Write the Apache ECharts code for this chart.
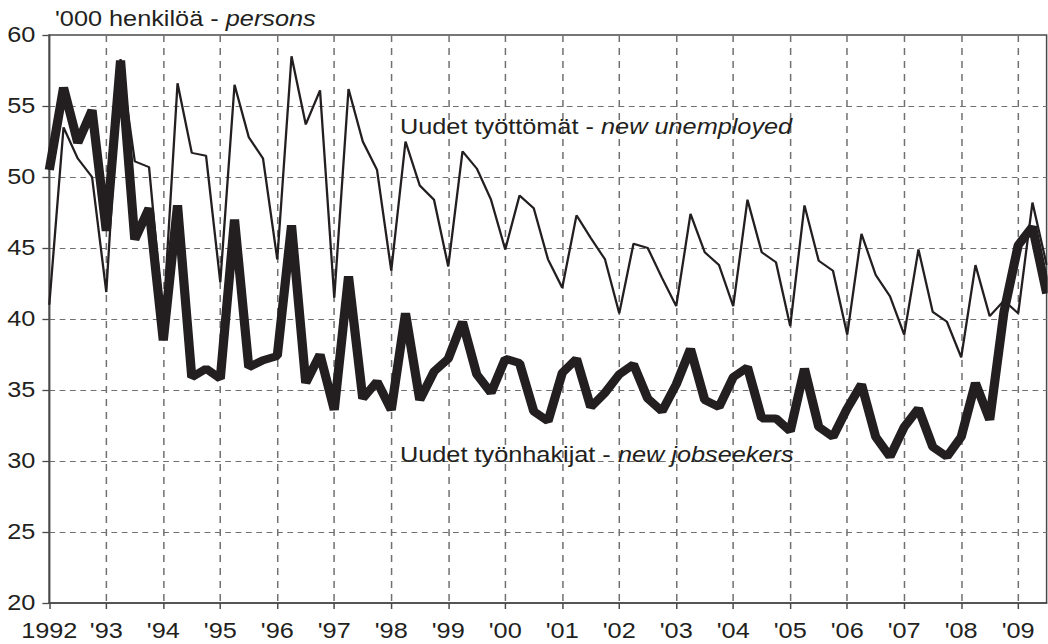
<!DOCTYPE html>
<html>
<head>
<meta charset="utf-8">
<script src="https://cdn.jsdelivr.net/npm/echarts@6/dist/echarts.min.js"></script>
<style>
  html, body { margin: 0; padding: 0; background: #fff; overflow: hidden; }
  #chart { position: absolute; left: 0; top: 0; height: 644px; transform-origin: 0 0; }
</style>
</head>
<body>
<div id="chart"></div>
<script>
// Quarterly figures, thousand persons, 1992 Q1 – 2009 Q3
const years = [1992, 1993, 1994, 1995, 1996, 1997, 1998, 1999, 2000,
               2001, 2002, 2003, 2004, 2005, 2006, 2007, 2008, 2009];
const yearLabels = ['1992', "'93", "'94", "'95", "'96", "'97", "'98", "'99", "'00",
                    "'01", "'02", "'03", "'04", "'05", "'06", "'07", "'08", "'09"];

// Uudet työttömät - new unemployed
const newUnemployed = [
  41.0, 53.5, 51.3, 50.0,
  41.9, 58.3, 51.1, 50.7,
  40.0, 56.6, 51.7, 51.5,
  42.6, 56.5, 52.8, 51.3,
  44.2, 58.5, 53.7, 56.1,
  41.5, 56.2, 52.5, 50.5,
  43.4, 52.5, 49.4, 48.4,
  43.7, 51.8, 50.6, 48.4,
  44.9, 48.7, 47.8, 44.2,
  42.2, 47.3, 45.7, 44.2,
  40.4, 45.3, 45.0, 42.9,
  40.9, 47.4, 44.7, 43.8,
  40.9, 48.4, 44.7, 44.0,
  39.5, 48.0, 44.1, 43.4,
  38.9, 46.0, 43.1, 41.6,
  38.9, 44.9, 40.5, 39.8,
  37.3, 43.8, 40.2, 41.3,
  40.4, 48.2, 43.8
];

// Uudet työnhakijat - new jobseekers
const newJobseekers = [
  50.5, 56.3, 52.4, 54.7,
  46.2, 58.2, 45.6, 47.8,
  38.5, 48.0, 35.9, 36.5,
  35.8, 47.0, 36.6, 37.1,
  37.4, 46.6, 35.5, 37.5,
  33.6, 43.0, 34.4, 35.6,
  33.6, 40.4, 34.3, 36.3,
  37.2, 39.8, 36.1, 34.8,
  37.2, 36.9, 33.5, 32.8,
  36.2, 37.2, 33.8, 34.8,
  36.1, 36.8, 34.4, 33.5,
  35.4, 37.9, 34.3, 33.8,
  35.9, 36.6, 33.0, 33.0,
  32.1, 36.5, 32.4, 31.7,
  33.7, 35.4, 31.7, 30.3,
  32.4, 33.7, 31.0, 30.3,
  31.7, 35.5, 32.9, 40.5,
  45.2, 46.5, 41.8
];

// Quarter categories
const quarters = [];
years.forEach(function (y) {
  ['I', 'II', 'III', 'IV'].forEach(function (q) {
    if (quarters.length < newUnemployed.length) quarters.push(y + ' ' + q);
  });
});

// The artwork is set in a horizontally widened type; the whole drawing is widened by S.
const S = 1.15;
const W = 1048 / S;
const el = document.getElementById('chart');
el.style.width = W + 'px';
el.style.transform = 'scaleX(' + S + ')';

const INK = '#231f20';
const FONT = '"Liberation Sans", Arial, Helvetica, sans-serif';
const FS = 22;
const AXIS = '#4a4a4a';
const GRID = '#707070';

const chart = echarts.init(el, null, { renderer: 'svg', width: W, height: 644 });

function richLabel(plain, italic) {
  return '{n|' + plain + '}{i|' + italic + '}';
}
const richStyle = {
  n: { fontSize: FS, fontFamily: FONT, color: INK, fontWeight: 'normal' },
  i: { fontSize: FS, fontFamily: FONT, color: INK, fontWeight: 'normal', fontStyle: 'italic' }
};
const titleText = { fontWeight: 'normal', fontSize: FS, rich: richStyle };

chart.setOption({
  animation: false,
  backgroundColor: '#fff',
  textStyle: { fontFamily: FONT, color: INK },
  title: [
    { text: richLabel("'000 henkilöä - ", 'persons'), left: 55 / S, top: 8, padding: 0,
      textStyle: titleText },
    { text: richLabel('Uudet työttömät - ', 'new unemployed'), left: 400 / S, top: 116, padding: 0,
      textStyle: titleText },
    { text: richLabel('Uudet työnhakijat - ', 'new jobseekers'), left: 400 / S, top: 444, padding: 0,
      textStyle: titleText }
  ],
  grid: {
    left: 49.3 / S, right: 1.3 / S, top: 35, bottom: 41,
    show: true, borderColor: AXIS, borderWidth: 1.5, backgroundColor: 'transparent'
  },
  xAxis: {
    type: 'category',
    data: quarters,
    boundaryGap: false,
    axisLine: { lineStyle: { color: AXIS, width: 1.5 } },
    axisTick: {
      length: 6,
      interval: function (i) { return i % 4 === 0; },
      lineStyle: { color: AXIS, width: 1.3 }
    },
    axisLabel: {
      interval: function (i) { return i % 4 === 0; },
      formatter: function (v, i) { return yearLabels[i / 4]; },
      margin: 17,
      fontSize: FS, fontFamily: FONT, color: INK
    },
    splitLine: {
      show: true,
      interval: function (i) { return i % 4 === 0 && i > 0; },
      lineStyle: { color: GRID, width: 1.3, type: [7, 6] }
    }
  },
  yAxis: {
    type: 'value',
    min: 20, max: 60, interval: 5,
    axisLine: { show: true, lineStyle: { color: AXIS, width: 1.5 } },
    axisTick: { show: true, length: 6, lineStyle: { color: AXIS, width: 1.3 } },
    axisLabel: { margin: 14 / S, fontSize: FS, fontFamily: FONT, color: INK },
    splitLine: {
      show: true, showMinLine: false, showMaxLine: false,
      lineStyle: { color: GRID, width: 1.2, type: [5, 4] }
    }
  },
  series: [
    {
      name: 'Uudet työnhakijat - new jobseekers',
      type: 'line',
      data: newJobseekers,
      symbol: 'none',
      z: 3,
      lineStyle: { color: INK, width: 8, join: 'bevel' }
    },
    {
      name: 'Uudet työttömät - new unemployed',
      type: 'line',
      data: newUnemployed,
      symbol: 'none',
      z: 4,
      lineStyle: { color: INK, width: 2 }
    }
  ]
});
</script>
</body>
</html>
